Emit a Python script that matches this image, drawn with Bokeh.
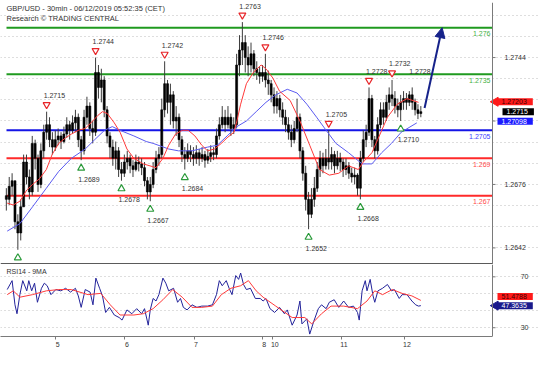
from bokeh.plotting import figure
from bokeh.layouts import column
from bokeh.models import Range1d, Span, Label, FixedTicker, ColumnDataSource, Arrow, NormalHead
from bokeh.core.properties import value
from bokeh.embed import file_html
from bokeh.resources import INLINE

# ---------------- data ----------------
title_1 = "GBP/USD - 30min - 06/12/2019 05:52:35 (CET)"
title_2 = "Research \u00a9 TRADING CENTRAL"
rsi_title = "RSI14 - 9MA"

# hourly candles (index 0 .. 144)
first_open = 1.2670
close = [1.2668, 1.2675, 1.2678, 1.2656, 1.2650, 1.2664, 1.2688, 1.2680, 1.2672, 1.2698,
         1.2690, 1.2676, 1.2694, 1.2704, 1.2708, 1.2700, 1.2696, 1.2700, 1.2702, 1.2699,
         1.2703, 1.2708, 1.2705, 1.2709, 1.2712, 1.2700, 1.2694, 1.2712, 1.2718, 1.2706,
         1.2704, 1.2736, 1.2728, 1.2732, 1.2716, 1.2702, 1.2696, 1.2690, 1.2694, 1.2684,
         1.2682, 1.2688, 1.2690, 1.2686, 1.2684, 1.2688, 1.2687, 1.2685, 1.2678, 1.2672,
         1.2676, 1.2684, 1.2690, 1.2692, 1.2716, 1.2730, 1.2720, 1.2724, 1.2710, 1.2712,
         1.2700, 1.2692, 1.2690, 1.2694, 1.2692, 1.2690, 1.2693, 1.2690, 1.2692, 1.2689,
         1.2691, 1.2693, 1.2692, 1.2702, 1.2708, 1.2712, 1.2708, 1.2712, 1.2706, 1.2708,
         1.2740, 1.2748, 1.2752, 1.2744, 1.2740, 1.2746, 1.2738, 1.2736, 1.2734, 1.2736,
         1.2732, 1.2730, 1.2724, 1.2718, 1.2722, 1.2716, 1.2712, 1.2708, 1.2704, 1.2700,
         1.2706, 1.2712, 1.2694, 1.2682, 1.2668, 1.2660, 1.2668, 1.2674, 1.2684, 1.2690,
         1.2686, 1.2690, 1.2688, 1.2692, 1.2686, 1.2690, 1.2688, 1.2684, 1.2686, 1.2682,
         1.2680, 1.2681, 1.2674, 1.2690, 1.2700, 1.2704, 1.2722, 1.2700, 1.2694, 1.2708,
         1.2716, 1.2712, 1.2720, 1.2724, 1.2722, 1.2718, 1.2716, 1.2720, 1.2722, 1.2720,
         1.2724, 1.2720, 1.2716, 1.2714, 1.2715]
high = [1.2674, 1.2680, 1.2682, 1.2676, 1.2660, 1.2668, 1.2692, 1.2692, 1.2684, 1.2702,
        1.2700, 1.2692, 1.2698, 1.2708, 1.2715, 1.2712, 1.2704, 1.2705, 1.2706, 1.2704,
        1.2707, 1.2712, 1.2710, 1.2713, 1.2716, 1.2714, 1.2702, 1.2716, 1.2723, 1.2720,
        1.2710, 1.2744, 1.2740, 1.2738, 1.2734, 1.2718, 1.2704, 1.2700, 1.2699, 1.2696,
        1.2688, 1.2692, 1.2694, 1.2692, 1.2689, 1.2692, 1.2691, 1.2690, 1.2688, 1.2680,
        1.2680, 1.2688, 1.2694, 1.2696, 1.2722, 1.2742, 1.2732, 1.2730, 1.2726, 1.2718,
        1.2714, 1.2702, 1.2696, 1.2698, 1.2697, 1.2696, 1.2697, 1.2695, 1.2696, 1.2694,
        1.2695, 1.2697, 1.2696, 1.2706, 1.2712, 1.2718, 1.2716, 1.2718, 1.2714, 1.2712,
        1.2746, 1.2756, 1.2763, 1.2756, 1.2750, 1.2752, 1.2748, 1.2742, 1.2739, 1.2740,
        1.2746, 1.2737, 1.2732, 1.2728, 1.2726, 1.2724, 1.2720, 1.2716, 1.2712, 1.2708,
        1.2710, 1.2722, 1.2714, 1.2696, 1.2686, 1.2672, 1.2674, 1.2680, 1.2688, 1.2694,
        1.2693, 1.2695, 1.2705, 1.2696, 1.2694, 1.2694, 1.2693, 1.2690, 1.2690, 1.2688,
        1.2685, 1.2685, 1.2682, 1.2694, 1.2705, 1.2708, 1.2728, 1.2724, 1.2702, 1.2712,
        1.2720, 1.2720, 1.2724, 1.2728, 1.2732, 1.2726, 1.2722, 1.2724, 1.2726, 1.2725,
        1.2726, 1.2728, 1.2722, 1.2719, 1.2718]
low = [1.2662, 1.2665, 1.2670, 1.2652, 1.2641, 1.2646, 1.2664, 1.2676, 1.2668, 1.2670,
       1.2684, 1.2672, 1.2674, 1.2690, 1.2700, 1.2696, 1.2692, 1.2694, 1.2697, 1.2695,
       1.2698, 1.2701, 1.2700, 1.2703, 1.2704, 1.2696, 1.2689, 1.2692, 1.2708, 1.2702,
       1.2698, 1.2702, 1.2722, 1.2720, 1.2712, 1.2698, 1.2690, 1.2686, 1.2684, 1.2680,
       1.2678, 1.2680, 1.2684, 1.2682, 1.2680, 1.2683, 1.2683, 1.2681, 1.2675, 1.2668,
       1.2667, 1.2674, 1.2682, 1.2686, 1.2690, 1.2712, 1.2714, 1.2708, 1.2706, 1.2702,
       1.2696, 1.2688, 1.2684, 1.2688, 1.2688, 1.2686, 1.2687, 1.2686, 1.2688, 1.2685,
       1.2687, 1.2688, 1.2689, 1.2690, 1.2700, 1.2706, 1.2704, 1.2706, 1.2702, 1.2703,
       1.2706, 1.2734, 1.2740, 1.2736, 1.2734, 1.2736, 1.2734, 1.2732, 1.2730, 1.2731,
       1.2728, 1.2724, 1.2720, 1.2714, 1.2714, 1.2712, 1.2708, 1.2704, 1.2700, 1.2696,
       1.2698, 1.2704, 1.2690, 1.2678, 1.2662, 1.2652, 1.2658, 1.2664, 1.2672, 1.2680,
       1.2682, 1.2684, 1.2684, 1.2684, 1.2682, 1.2684, 1.2683, 1.2680, 1.2681, 1.2679,
       1.2677, 1.2676, 1.2670, 1.2668, 1.2688, 1.2696, 1.2702, 1.2696, 1.2690, 1.2692,
       1.2706, 1.2708, 1.2710, 1.2716, 1.2718, 1.2714, 1.2712, 1.2710, 1.2716, 1.2716,
       1.2718, 1.2716, 1.2713, 1.2711, 1.2712]

# moving averages on price (red = short, blue = long)
red_ma_idx = [0.3, 2.4, 4.7, 7.1, 9.1, 11.5, 13.9, 15.9, 18.2, 20.6,
              22.6, 25.0, 27.4, 29.4, 31.8, 33.4, 35.1, 37.5, 39.5, 41.9,
              44.3, 47.6, 52.0, 54.4, 56.4, 58.8, 61.1, 63.2, 65.5, 67.9,
              69.9, 72.3, 74.7, 76.7, 79.1, 80.1, 81.4, 83.4, 85.8, 88.5,
              90.2, 92.6, 94.9, 98.6, 102.0, 105.4, 108.8, 112.2, 115.5, 118.9,
              122.3, 124.0, 127.0, 129.0, 132.4, 135.8, 139.2, 143.2]
red_ma = [1.2666, 1.2665, 1.2667, 1.2673, 1.2676, 1.2679, 1.2684, 1.2692, 1.2698, 1.2701,
          1.2703, 1.2705, 1.2706, 1.2709, 1.2713, 1.2715, 1.2714, 1.2709, 1.2704, 1.2695,
          1.2690, 1.2687, 1.2685, 1.2690, 1.2697, 1.2703, 1.2705, 1.2705, 1.2702, 1.2697,
          1.2694, 1.2695, 1.2698, 1.2701, 1.2704, 1.2710, 1.2719, 1.2730, 1.2736, 1.2740,
          1.2738, 1.2733, 1.2726, 1.2721, 1.2710, 1.2697, 1.2684, 1.2681, 1.2682, 1.2686,
          1.2684, 1.2688, 1.2693, 1.2700, 1.2712, 1.2719, 1.2722, 1.2720]
blue_ma_idx = [0.3, 4.7, 9.1, 13.9, 18.2, 22.6, 27.4, 30.7, 34.1, 36.8,
               39.5, 44.3, 48.6, 51.0, 56.4, 59.8, 64.5, 69.9, 73.3, 76.7,
               80.1, 83.4, 86.8, 90.2, 93.6, 97.6, 101.0, 104.4, 107.8, 111.1,
               114.5, 118.9, 123.6, 127.0, 130.4, 133.8, 137.2, 142.6]
blue_ma = [1.2651, 1.2655, 1.2664, 1.2674, 1.2683, 1.2690, 1.2695, 1.2700, 1.2705, 1.2707,
           1.2705, 1.2702, 1.2699, 1.2698, 1.2695, 1.2694, 1.2694, 1.2696, 1.2697, 1.2702,
           1.2707, 1.2710, 1.2715, 1.2720, 1.2724, 1.2727, 1.2725, 1.2719, 1.2712, 1.2705,
           1.2698, 1.2693, 1.2687, 1.2687, 1.2693, 1.2698, 1.2704, 1.2709]

# swing highs / lows
pivot_idx = [4, 14, 26, 31, 40, 50, 55, 62, 82, 90, 105, 112, 123, 126, 134, 137, 141]
pivot_price = [1.2641, 1.2715, 1.2689, 1.2744, 1.2678, 1.2667, 1.2742, 1.2684, 1.2763,
               1.2746, 1.2652, 1.2705, 1.2668, 1.2728, 1.2732, 1.2710, 1.2728]
pivot_kind = ["low", "high", "low", "high", "low", "low", "high", "low", "high",
              "high", "low", "high", "low", "high", "high", "low", "high"]
pivot_text = ["", "1.2715", "1.2689", "1.2744", "1.2678", "1.2667", "1.2742", "1.2684",
              "1.2763", "1.2746", "1.2652", "1.2705", "1.2668", "1.2728", "1.2732",
              "1.2710", "1.2728"]
pivot_marker = [True] * 16 + [False]

# key levels
level_values = [1.2760, 1.2735, 1.2705, 1.2690, 1.2670]
level_texts = ["1.276", "1.2735", "1.2705", "1.269", "1.267"]
level_colors = ["#1f9a1f", "#1f9a1f", "#1414e6", "#ff2a2a", "#ff2a2a"]
level_text_colors = ["#44b044", "#44b044", "#3c3cff", "#ff4a4a", "#ff4a4a"]

# right axis
price_ticks = [1.2642, 1.2676, 1.2710, 1.2744]
price_tick_labels = ["1.2642", "1.2676", "", "1.2744"]
tag_red, tag_last, tag_blue = 1.27203, 1.2715, 1.27098

# RSI
rsi_idx = [0.3, 2.0, 3.0, 3.7, 4.7, 5.7, 7.1, 7.8, 8.8, 9.8,
           10.8, 12.2, 13.2, 14.2, 15.5, 17.2, 18.9, 20.6, 22.3, 24.0,
           25.0, 26.0, 27.4, 29.1, 30.1, 31.1, 32.4, 33.4, 34.5, 35.8,
           37.5, 39.2, 40.2, 41.9, 43.6, 45.3, 47.0, 48.0, 49.3, 50.0,
           51.0, 52.0, 53.0, 54.4, 55.4, 56.4, 58.1, 59.5, 60.5, 61.5,
           62.8, 64.5, 66.2, 67.9, 69.9, 71.6, 73.0, 74.0, 75.0, 76.4,
           77.4, 78.4, 79.7, 80.7, 81.4, 82.4, 83.4, 84.8, 86.5, 88.2,
           89.2, 90.2, 91.6, 93.2, 94.9, 96.6, 97.6, 99.3, 101.0, 102.0,
           102.7, 104.4, 105.4, 106.8, 108.4, 109.5, 111.1, 112.2, 113.9, 115.5,
           117.2, 118.9, 120.6, 122.0, 122.6, 123.6, 124.7, 125.3, 126.4, 127.4,
           128.0, 129.1, 130.7, 132.4, 133.8, 134.8, 136.5, 137.5, 139.2, 140.9,
           142.2, 143.2, 144.0]
rsi = [60, 67, 48, 41, 56, 67, 59, 67, 59, 65,
       50, 61, 65, 63, 56, 60, 59, 61, 58, 61,
       55, 46, 60, 58, 48, 69, 61, 55, 42, 46,
       40, 38, 36, 44, 41, 45, 41, 45, 32, 44,
       53, 51, 56, 69, 65, 59, 61, 50, 53, 46,
       44, 48, 46, 47, 47, 48, 56, 67, 63, 67,
       61, 56, 71, 68, 73, 64, 60, 61, 53, 53,
       51, 53, 45, 42, 46, 41, 44, 32, 40, 51,
       33, 37, 25, 35, 45, 48, 45, 50, 52, 46,
       51, 46, 47, 42, 36, 59, 67, 59, 68, 55,
       50, 59, 61, 64, 59, 60, 53, 56, 56, 51,
       48, 47, 47.36]
rsi_ma_idx = [0.3, 2.4, 4.7, 9.1, 13.9, 18.2, 22.6, 28.4, 32.8, 36.1,
              39.5, 44.3, 47.6, 51.0, 54.4, 57.8, 61.1, 64.5, 67.9, 71.6,
              74.7, 78.0, 81.4, 84.1, 86.8, 89.2, 93.6, 99.3, 103.7, 106.1,
              109.5, 112.8, 117.2, 122.0, 125.3, 128.0, 130.7, 134.1, 137.5, 140.9,
              144.0]
rsi_ma = [56, 59, 54, 56, 59, 60, 60, 56, 57, 48,
          40, 40, 41, 45, 52, 60, 54, 46, 46, 47,
          56, 61, 63, 67, 59, 54, 47, 38, 38, 33,
          41, 47, 47, 45, 51, 59, 56, 60, 57, 55,
          51.48]
rsi_ticks = [30, 70]
rsi_tick_labels = ["30", "70"]
rsi_tag_ma, rsi_tag = 51.4788, 47.3635

# time axis (day starts)
day_tick_idx = [17.2, 41.2, 65.2, 88.9, 92.6, 116.6, 138.5]
day_labels = ["5", "6", "7", "8", "10", "11", "12"]

# forecast arrow
forecast_idx = [145.3, 151.4]
forecast_price = [1.2717, 1.2760]

# ---------------- geometry / style ----------------
FONT = "Liberation Sans"
W, AXIS_PX, PH, RH = 538, 492, 262, 72
X_START = -2.03
PX_X = (168.9 - X_START) / AXIS_PX
X_AXIS = X_START + AXIS_PX * PX_X
X_END = X_START + W * PX_X
P_START, P_END = 1.26331, 1.27735
R_START, R_END = 23.1, 79.7
PX_P = (P_END - P_START) / PH
PX_R = (R_END - R_START) / RH
AXIS_COLOR = "#7a7a7a"
GRID_COLOR = "#bdbdbd"
TXT = "#333333"

xr = Range1d(X_START, X_END)

p1 = figure(frame_width=W, frame_height=PH, x_range=xr, y_range=Range1d(P_START, P_END),
            output_backend="svg", toolbar_location=None, tools="",
            x_axis_location=None, y_axis_location=None,
            min_border_left=0, min_border_right=0, min_border_top=2, min_border_bottom=0)
p2 = figure(frame_width=W, frame_height=RH, x_range=xr, y_range=Range1d(R_START, R_END),
            output_backend="svg", toolbar_location=None, tools="",
            y_axis_location=None,
            min_border_left=0, min_border_right=0, min_border_top=0, min_border_bottom=16)

for p in (p1, p2):
    p.outline_line_color = None
    p.background_fill_color = "white"
    p.border_fill_color = "white"
    p.xgrid.visible = False
    p.ygrid.grid_line_color = GRID_COLOR
    p.ygrid.grid_line_dash = "1 3"
    p.ygrid.grid_line_width = 1
    # right axis line
    p.add_layout(Span(location=X_AXIS, dimension="height", line_color=AXIS_COLOR, line_width=1))

step = (price_ticks[1] - price_ticks[0]) / 3
p1.ygrid.ticker = FixedTicker(ticks=[price_ticks[0] + k * step for k in range(-1, 12)])
rstep = (rsi_ticks[1] - rsi_ticks[0]) / 3
p2.ygrid.ticker = FixedTicker(ticks=[rsi_ticks[0] + k * rstep for k in range(4)])

# right-axis ticks and labels
p1.segment([X_AXIS] * len(price_ticks), price_ticks,
           [X_AXIS + 3 * PX_X] * len(price_ticks), price_ticks, line_color=AXIS_COLOR)
p1.text([X_AXIS + 12 * PX_X] * len(price_ticks), price_ticks, text=price_tick_labels,
        text_align="left", text_baseline="middle", text_font_size="7px",
        text_color=TXT, text_font=value(FONT))
p2.segment([X_AXIS] * len(rsi_ticks), rsi_ticks,
           [X_AXIS + 3 * PX_X] * len(rsi_ticks), rsi_ticks, line_color=AXIS_COLOR)
p2.text([X_AXIS + 36 * PX_X] * len(rsi_ticks), rsi_ticks, text=rsi_tick_labels,
        text_align="right", text_baseline="middle", text_font_size="7px",
        text_color=TXT, text_font=value(FONT))

# bottom time axis
xa = p2.xaxis[0]
xa.bounds = (X_START, X_AXIS)
xa.ticker = FixedTicker(ticks=day_tick_idx)
xa.major_label_overrides = {t: "\u00a0\u00a0" + s for t, s in zip(day_tick_idx, day_labels)}
xa.axis_line_color = AXIS_COLOR
xa.major_tick_line_color = AXIS_COLOR
xa.major_tick_out = 3
xa.major_tick_in = 0
xa.minor_tick_line_color = None
xa.major_label_text_font_size = "7px"
xa.major_label_text_color = TXT
xa.major_label_text_font = FONT
xa.major_label_standoff = 1

# separator between panels
p1.segment([X_START], [P_START + 0.8 * PX_P], [X_AXIS], [P_START + 0.8 * PX_P],
           line_color="#5a5a5a", line_width=1.6)

# key level lines
n_lv = len(level_values)
p1.segment([X_START + 6 * PX_X] * n_lv, level_values, [X_AXIS] * n_lv, level_values,
           line_color=level_colors, line_width=2)

# candles
opens = [first_open] + close[:-1]
src = ColumnDataSource(dict(
    x=list(range(len(close))), h=high, l=low,
    top=[max(a, b) for a, b in zip(opens, close)],
    bot=[min(a, b) for a, b in zip(opens, close)]))
p1.segment("x", "l", "x", "h", source=src, line_color="#3c3c3c", line_width=1)
p1.vbar(x="x", width=0.7, top="top", bottom="bot", source=src,
        fill_color="#000000", line_color="#000000", line_width=0.6)

# moving averages
p1.line(blue_ma_idx, blue_ma, line_color="#5b5bf0", line_width=1)
p1.line(red_ma_idx, red_ma, line_color="#ff3a3a", line_width=1)

# pivot markers and labels
sel_h = [k for k in range(len(pivot_idx)) if pivot_kind[k] == "high" and pivot_marker[k]]
sel_l = [k for k in range(len(pivot_idx)) if pivot_kind[k] == "low" and pivot_marker[k]]
p1.scatter([pivot_idx[k] for k in sel_h], [pivot_price[k] + 7 * PX_P for k in sel_h],
           marker="inverted_triangle", size=7, fill_color="white",
           line_color="#e8262a", line_width=1.2)
p1.scatter([pivot_idx[k] for k in sel_l], [pivot_price[k] - 8 * PX_P for k in sel_l],
           marker="triangle", size=7, fill_color="white",
           line_color="#2a9a3a", line_width=1.2)
tx = [i - 3 * PX_X for i in pivot_idx]
ty = [pr + 16 * PX_P if k == "high" else pr - 19 * PX_P for pr, k in zip(pivot_price, pivot_kind)]
p1.text(tx, ty, text=pivot_text, text_align="left", text_baseline="middle",
        text_font_size="7px", text_color=TXT, text_font=value(FONT))

# level labels
p1.text([X_AXIS - 2 * PX_X] * n_lv, [v - 6 * PX_P for v in level_values], text=level_texts,
        text_align="right", text_baseline="middle", text_color=level_text_colors,
        text_font_size="7px", text_font=value(FONT))

# titles
p1.add_layout(Label(x=X_START + 6 * PX_X, y=P_END - 6 * PX_P, text=title_1,
                    text_baseline="middle", text_font_size="7.5px", text_color=TXT,
                    text_font=FONT))
p1.add_layout(Label(x=X_START + 6 * PX_X, y=P_END - 16 * PX_P, text=title_2,
                    text_baseline="middle", text_font_size="7.5px", text_color=TXT,
                    text_font=FONT))
p2.add_layout(Label(x=X_START + 6 * PX_X, y=R_END - 7 * PX_R, text=rsi_title,
                    text_baseline="middle", text_font_size="7px", text_color=TXT,
                    text_font=FONT))

# forecast arrow
p1.add_layout(Arrow(x_start=forecast_idx[0], y_start=forecast_price[0],
                    x_end=forecast_idx[1], y_end=forecast_price[1],
                    line_color="#16228a", line_width=2,
                    end=NormalHead(size=10, fill_color="#16228a", line_color="#16228a")))

# value tags in the right axis area
def tag(p, yv, text, bg, fg, notch=False, dx=5):
    p.add_layout(Label(x=X_AXIS + dx * PX_X, y=yv, text=text, text_align="left",
                       text_baseline="middle", text_font_size="7px", text_color=fg,
                       text_font=FONT, background_fill_color=bg,
                       padding=dict(left=4, right=6, top=1, bottom=1)))
    if notch:
        p.scatter([X_AXIS + 3 * PX_X], [yv], marker="triangle", angle=1.5708, size=9,
                  fill_color=bg, line_color=bg)

tag(p1, tag_red, "1.27203", "#ff1a1a", "#3a0000", notch=True)
tag(p1, tag_last, "1.2715", "#000000", "#ffffff", dx=10)
tag(p1, tag_blue, "1.27098", "#1a1aff", "#ffffff")
tag(p2, rsi_tag_ma + 4 * PX_R, "51.4788", "#ff1a1a", "#3a0000")
tag(p2, rsi_tag, "47.3635", "#1a1a8c", "#ffffff", notch=True)

# RSI panel
p2.line(rsi_idx, rsi, line_color="#23239a", line_width=1)
p2.line(rsi_ma_idx, rsi_ma, line_color="#ff3a3a", line_width=1)

layout = column(p1, p2, spacing=0)
open("out.html", "w").write(file_html(layout, INLINE))
